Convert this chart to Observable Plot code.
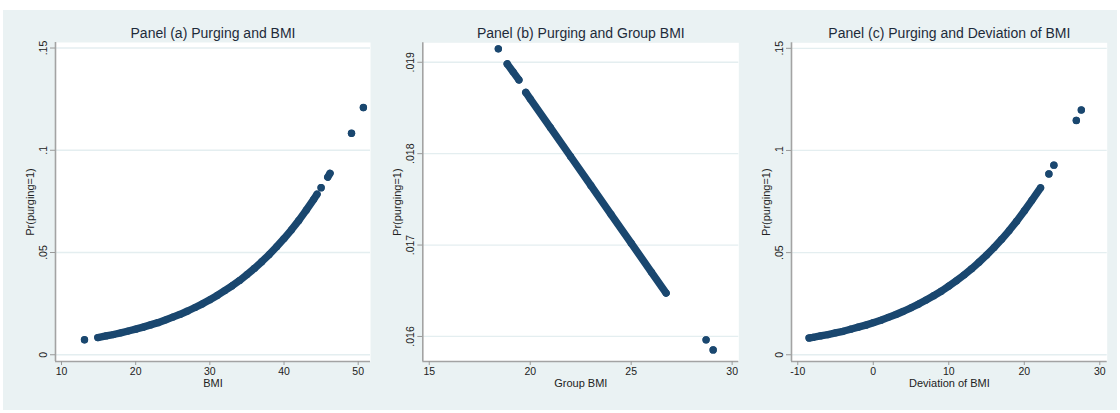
<!DOCTYPE html>
<html>
<head>
<meta charset="utf-8">
<script src="https://cdn.jsdelivr.net/npm/d3@7"></script>
<script src="https://cdn.jsdelivr.net/npm/@observablehq/plot@0.6"></script>
<style>
  body { margin: 0; background: #fff; }
  #root { position: relative; width: 1120px; height: 413px; background: #fff; overflow: hidden; font-family: "Liberation Sans", Arial, sans-serif; }
  #bg { position: absolute; left: 3px; top: 10px; width: 1114px; height: 400px; background: #eaf2f3; }
  #root svg { position: absolute; top: 0; }
</style>
</head>
<body>
<div id="root"><div id="bg"></div></div>
<script>
// ---------- Panel (a): Purging and BMI ----------
const panelA_bmi = [13.1, 14.9, 16, 17, 18, 19, 20, 21, 22, 23, 24, 25, 26, 27, 28, 29, 30, 31, 32, 33, 34, 35, 36, 37, 38, 39, 40, 41, 42, 43, 44, 44.45, 45.0, 45.9, 46.2, 49.1, 50.7];
const panelA_pr  = [0.0073, 0.0084, 0.0092, 0.0099, 0.0107, 0.0116, 0.0125, 0.0135, 0.0146, 0.0157, 0.0170, 0.0184, 0.0198, 0.0214, 0.0231, 0.0249, 0.0269, 0.0290, 0.0313, 0.0337, 0.0363, 0.0392, 0.0422, 0.0455, 0.0490, 0.0528, 0.0568, 0.0611, 0.0657, 0.0707, 0.0760, 0.0785, 0.0817, 0.0869, 0.0887, 0.1083, 0.1209];
const panelA_run = [0, 1,1,1,1,1,1,1,1,1,1,1,1,1,1,1,1,1,1,1,1,1,1,1,1,1,1,1,1,1,1,1, 2, 3, 3, 4, 5];
const ticksA_x = [10, 20, 30, 40, 50];
const labelsA_x = ["10", "20", "30", "40", "50"];
const ticksA_y = [0, 0.05, 0.1, 0.15];
const labelsA_y = ["0", ".05", ".1", ".15"];

// ---------- Panel (b): Purging and Group BMI ----------
const panelB_gbmi = [18.42, 18.86, 19.15, 19.44, 19.78, 20, 21, 22, 23, 24, 25, 26, 26.73, 28.71, 29.06];
const panelB_pr   = [0.019147, 0.018982, 0.018895, 0.018807, 0.018670, 0.018600, 0.018285, 0.017969, 0.017653, 0.017337, 0.017021, 0.016705, 0.016475, 0.015963, 0.015853];
const panelB_run  = [0, 1, 1, 1, 2, 2, 2, 2, 2, 2, 2, 2, 2, 3, 4];
const ticksB_x = [15, 20, 25, 30];
const labelsB_x = ["15", "20", "25", "30"];
const ticksB_y = [0.016, 0.017, 0.018, 0.019];
const labelsB_y = [".016", ".017", ".018", ".019"];

// ---------- Panel (c): Purging and Deviation of BMI ----------
const panelC_dev = [-8.5, -8, -7, -6, -5, -4, -3, -2, -1, 0, 1, 2, 3, 4, 5, 6, 7, 8, 9, 10, 11, 12, 13, 14, 15, 16, 17, 18, 19, 20, 21, 22.15, 23.26, 23.92, 26.89, 27.55];
const panelC_pr  = [0.0082, 0.0085, 0.0092, 0.0099, 0.0107, 0.0115, 0.0125, 0.0135, 0.0145, 0.0157, 0.0169, 0.0183, 0.0197, 0.0213, 0.0230, 0.0248, 0.0268, 0.0289, 0.0311, 0.0336, 0.0362, 0.0390, 0.0420, 0.0453, 0.0488, 0.0525, 0.0565, 0.0608, 0.0654, 0.0704, 0.0756, 0.0817, 0.0885, 0.0928, 0.1147, 0.1198];
const panelC_run = [1,1,1,1,1,1,1,1,1,1,1,1,1,1,1,1,1,1,1,1,1,1,1,1,1,1,1,1,1,1,1,1, 2, 3, 4, 5];
const ticksC_x = [-10, 0, 10, 20, 30];
const labelsC_x = ["-10", "0", "10", "20", "30"];
const ticksC_y = [0, 0.05, 0.1, 0.15];
const labelsC_y = ["0", ".05", ".1", ".15"];

const titles = ["Panel (a) Purging and BMI", "Panel (b) Purging and Group BMI", "Panel (c) Purging and Deviation of BMI"];
const xLabels = ["BMI", "Group BMI", "Deviation of BMI"];
const yLabel = "Pr(purging=1)";

const NAVY = "#1a476f";
const FONT = "'Liberation Sans', Arial, sans-serif";

function panel(cfg) {
  const data = cfg.x.map((v, i) => ({x: v, y: cfg.y[i], run: cfg.run[i]}));
  const fx = d => cfg.xLabelsT[cfg.xTicks.indexOf(d)];
  const fy = d => cfg.yLabelsT[cfg.yTicks.indexOf(d)];
  const svg = Plot.plot({
    width: cfg.width,
    height: 413,
    marginLeft: cfg.mL, marginRight: cfg.mR, marginTop: cfg.mT, marginBottom: cfg.mB,
    x: {domain: cfg.xDomain, label: null},
    y: {domain: cfg.yDomain, label: null},
    style: {background: "transparent", overflow: "visible", fontFamily: FONT},
    marks: [
      Plot.frame({fill: "white", stroke: null}),
      Plot.ruleY(cfg.yTicks, {stroke: "#e4eef0", strokeWidth: 1.3}),
      Plot.ruleX([cfg.xDomain[0]], {stroke: "#a3a3a3", strokeWidth: 1.6}),
      Plot.ruleY([cfg.yDomain[0]], {stroke: "#a3a3a3", strokeWidth: 1.6}),
      Plot.axisX({ticks: cfg.xTicks, tickFormat: fx, tickSize: 4, tickPadding: 2, fontSize: 10.5, stroke: "#999", fill: "#222", label: null}),
      Plot.axisY({ticks: cfg.yTicks, tickFormat: fy, tickSize: 5, tickPadding: 4, tickRotate: -90, fontSize: 10.5, stroke: "#999", fill: "#222", label: null}),
      Plot.line(data, {x: "x", y: "y", z: "run", stroke: NAVY, strokeWidth: 7.4, strokeLinecap: "round", strokeLinejoin: "round"}),
      Plot.dot(data, {x: "x", y: "y", r: 3.6, fill: NAVY, stroke: null}),
      Plot.text([cfg.title], {text: d => d, frameAnchor: "top", dy: -9, lineAnchor: "middle", fontSize: 14, fill: "#1e2b3a"}),
      Plot.text([cfg.xLabel], {text: d => d, frameAnchor: "bottom", dy: 22, lineAnchor: "middle", fontSize: 11, fill: "#222"}),
      Plot.text([yLabel], {text: d => d, frameAnchor: "left", dx: -25, rotate: -90, textAnchor: "middle", lineAnchor: "middle", fontSize: 11, fill: "#222"})
    ]
  });
  svg.style.left = cfg.left + "px";
  document.getElementById("root").appendChild(svg);
}

panel({
  x: panelA_bmi, y: panelA_pr, run: panelA_run,
  xTicks: ticksA_x, xLabelsT: labelsA_x, yTicks: ticksA_y, yLabelsT: labelsA_y,
  xDomain: [9.19, 51.66], yDomain: [-0.0033, 0.1527],
  title: titles[0], xLabel: xLabels[0],
  left: 0, width: 380, mL: 55, mR: 10, mT: 42, mB: 52
});
panel({
  x: panelB_gbmi, y: panelB_pr, run: panelB_run,
  xTicks: ticksB_x, xLabelsT: labelsB_x, yTicks: ticksB_y, yLabelsT: labelsB_y,
  xDomain: [14.68, 30.33], yDomain: [0.015726, 0.019213],
  title: titles[1], xLabel: xLabels[1],
  left: 375, width: 370, mL: 47.3, mR: 6.7, mT: 42.3, mB: 52
});
panel({
  x: panelC_dev, y: panelC_pr, run: panelC_run,
  xTicks: ticksC_x, xLabelsT: labelsC_x, yTicks: ticksC_y, yLabelsT: labelsC_y,
  xDomain: [-10.83, 30.98], yDomain: [-0.0033, 0.1527],
  title: titles[2], xLabel: xLabels[2],
  left: 745, width: 375, mL: 46, mR: 13.3, mT: 42.3, mB: 52
});
</script>
</body>
</html>
